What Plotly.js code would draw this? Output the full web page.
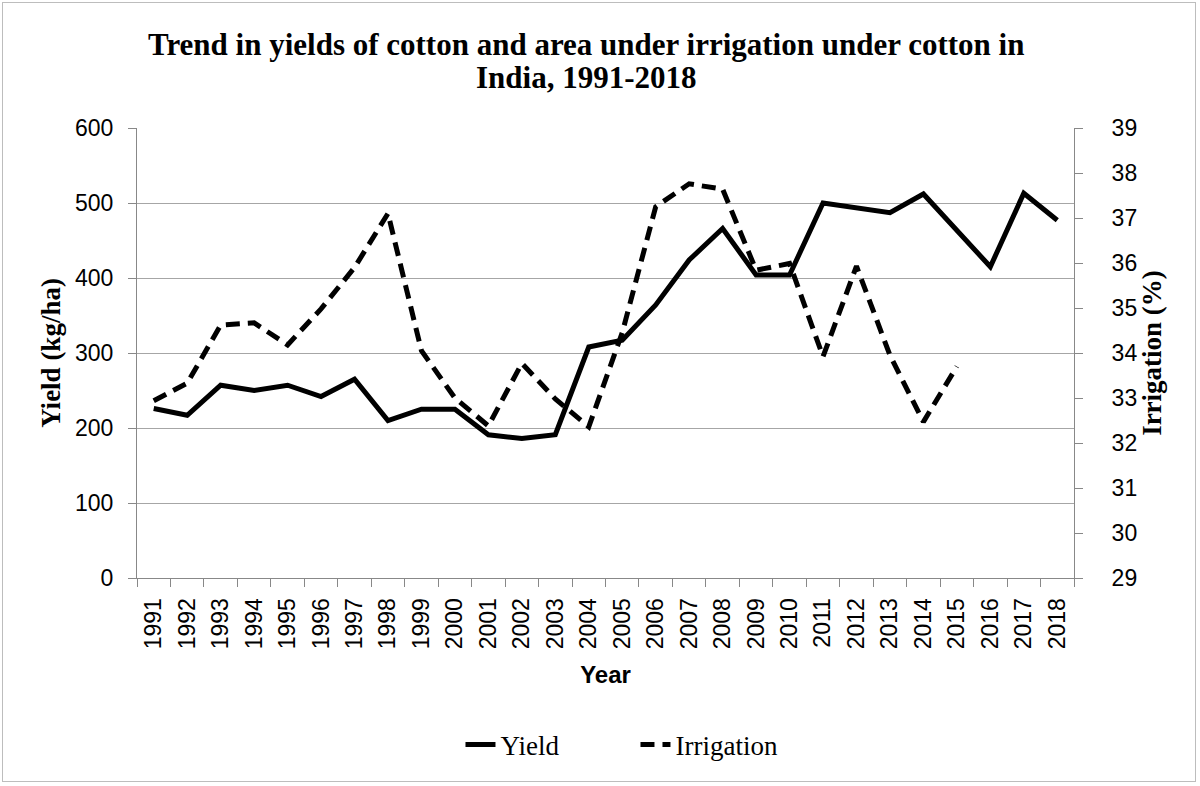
<!DOCTYPE html>
<html>
<head>
<meta charset="utf-8">
<script src="https://cdn.plot.ly/plotly-3.0.1.min.js"></script>
<style>
html,body{margin:0;padding:0;background:#fff;}
#wrap{position:relative;width:1200px;height:786px;}
#chart{width:1200px;height:786px;}
#frame{position:absolute;left:2px;top:2px;width:1194px;height:780px;border:1.5px solid #bdbdbd;box-sizing:border-box;pointer-events:none;}
</style>
</head>
<body>
<div id="wrap"><div id="chart"></div><div id="frame"></div></div>
<script>
const years = ["1991","1992","1993","1994","1995","1996","1997","1998","1999","2000",
               "2001","2002","2003","2004","2005","2006","2007","2008","2009","2010",
               "2011","2012","2013","2014","2015","2016","2017","2018"];
const yieldVals = [226,217,257,250,257,242,265,210,225,225,
                   191,186,191,308,317,364,424,466,404,404,
                   500,493,487,512,463,415,513,477];
const irrigYears = ["1991","1992","1993","1994","1995","1996","1997","1998","1999","2000",
                    "2001","2002","2003","2004","2005","2006","2007","2008","2009","2010",
                    "2011","2012","2013","2014","2015"];
const irrigVals = [32.94,33.33,34.62,34.67,34.18,34.98,35.9,37.1,34.05,33.0,
                   32.38,33.77,32.98,32.36,34.45,37.25,37.76,37.64,35.84,35.99,
                   33.92,35.93,33.95,32.47,33.7];
const titleLines = ["Trend in yields of cotton and area under irrigation under cotton in",
                    "India, 1991-2018"];

const serif = "Liberation Serif, Times New Roman, serif";
const sans = "Liberation Sans, Arial, sans-serif";

const traces = [
  {x: years, y: yieldVals, name: "Yield", type: "scatter", mode: "lines",
   line: {color: "#000", width: 5}, yaxis: "y"},
  {x: irrigYears, y: irrigVals, name: "Irrigation", type: "scatter", mode: "lines",
   line: {color: "#000", width: 5, dash: "14px,8px"}, yaxis: "y2"}
];

const layout = {
  width: 1200, height: 786,
  margin: {l: 137, r: 126, t: 128, b: 208},
  paper_bgcolor: "#fff", plot_bgcolor: "#fff",
  annotations: [
    {text: titleLines[0], xref: "paper", yref: "paper", x: 0.479, y: 1.185, xanchor: "center", yanchor: "middle",
     showarrow: false, font: {family: serif, size: 31, color: "#000", weight: "bold"}},
    {text: titleLines[1], xref: "paper", yref: "paper", x: 0.479, y: 1.112, xanchor: "center", yanchor: "middle",
     showarrow: false, font: {family: serif, size: 31, color: "#000", weight: "bold"}}
  ],
  showlegend: true,
  legend: {orientation: "h", x: 0.532, xanchor: "center", y: -0.371, yanchor: "middle",
           font: {family: serif, size: 27, color: "#000"}, entrywidth: 130, entrywidthmode: "pixels"},
  xaxis: {type: "category", range: [-0.5, 27.5], tickangle: -90,
          tickson: "boundaries", ticks: "outside", ticklen: 8, tickcolor: "#888",
          ticklabelstandoff: 10,
          showline: true, linecolor: "#888", linewidth: 1, showgrid: false,
          tickfont: {family: sans, size: 23, color: "#000"},
          title: {text: "Year", font: {family: sans, size: 24, color: "#000", weight: "bold"}, standoff: 17}},
  yaxis: {range: [0, 600], dtick: 100, ticks: "outside", ticklen: 8, tickcolor: "#888",
          ticklabelstandoff: 10,
          showline: true, linecolor: "#888", gridcolor: "#a6a6a6", gridwidth: 1,
          zeroline: false,
          tickfont: {family: sans, size: 23, color: "#000"},
          title: {text: "Yield (kg/ha)", font: {family: serif, size: 27, color: "#000", weight: "bold"}, standoff: 6}},
  yaxis2: {range: [29, 39], dtick: 1, overlaying: "y", side: "right",
           ticks: "outside", ticklen: 8, tickcolor: "#888",
           ticklabelstandoff: 24,
           showline: true, linecolor: "#888", showgrid: false, zeroline: false,
           tickfont: {family: sans, size: 23, color: "#000"},
           title: {text: "Irrigation (%)", font: {family: serif, size: 27, color: "#000", weight: "bold"}, standoff: 4}}
};

Plotly.newPlot("chart", traces, layout, {staticPlot: true, displayModeBar: false});
</script>
</body>
</html>
